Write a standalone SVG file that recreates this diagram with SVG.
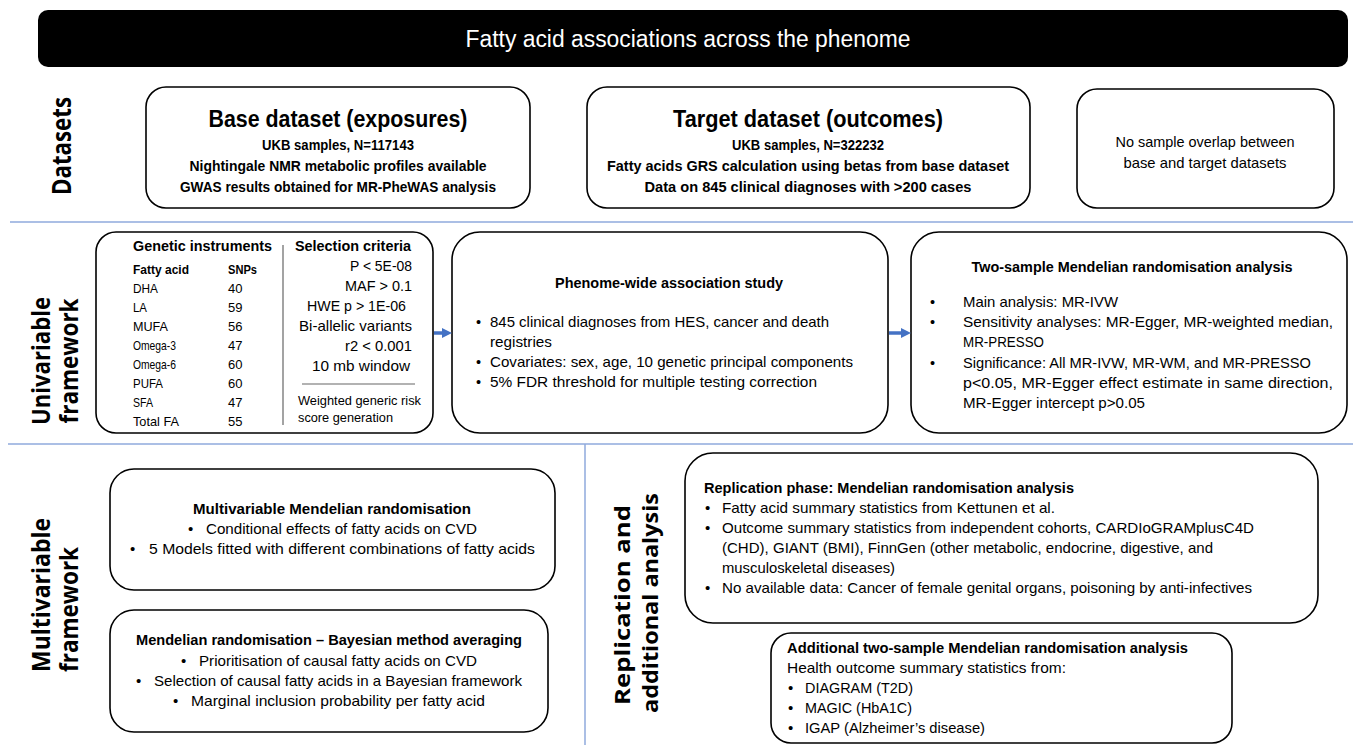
<svg xmlns="http://www.w3.org/2000/svg" width="1353" height="745" viewBox="0 0 1353 745">
<style>
.bg{fill:#fff}
.box{fill:#fff;stroke:#000;stroke-width:1.6}
.sep{stroke:#8FAADC;stroke-width:1.5;fill:none}
.lbl{font-family:"Open Sans","Liberation Sans",sans-serif;font-weight:bold;fill:#000}
.t{font-family:"Liberation Sans",Arial,sans-serif;fill:#000}
.b{font-weight:bold}
.m{text-anchor:middle}
.e{text-anchor:end}
.arrow{stroke:#4472C4;stroke-width:3.5;fill:none}
</style>
<defs>
<marker id="ah" viewBox="0 0 10 10" refX="2" refY="5" markerWidth="10" markerHeight="11" markerUnits="userSpaceOnUse" orient="auto">
<path d="M0,0 L10,5 L0,10 z" fill="#4472C4"/>
</marker>
</defs>
<rect class="bg" x="0" y="0" width="1353" height="745"/>

<g id="title">
<rect x="38" y="10" width="1310" height="57" rx="10" fill="#000"/>
<text class="t m" x="688" y="47" font-size="23" style="fill:#fff" textLength="445" lengthAdjust="spacingAndGlyphs">Fatty acid associations across the phenome</text>
</g>

<g id="separators">
<line class="sep" x1="10" y1="222" x2="1353" y2="222"/>
<line class="sep" x1="8" y1="444" x2="1353" y2="444"/>
<line class="sep" x1="585" y1="444" x2="585" y2="745"/>
</g>

<g id="section-labels">
<text class="lbl m" font-size="26" transform="translate(71,146) rotate(-90)" textLength="98" lengthAdjust="spacingAndGlyphs">Datasets</text>
<text class="lbl m" font-size="25" transform="translate(50,361) rotate(-90)" textLength="128" lengthAdjust="spacingAndGlyphs">Univariable</text>
<text class="lbl m" font-size="25" transform="translate(78,361) rotate(-90)" textLength="125" lengthAdjust="spacingAndGlyphs">framework</text>
<text class="lbl" font-size="25" transform="translate(50,672) rotate(-90)" textLength="154" lengthAdjust="spacingAndGlyphs">Multivariable</text>
<text class="lbl" font-size="25" transform="translate(78,672) rotate(-90)" textLength="125" lengthAdjust="spacingAndGlyphs">framework</text>
<text class="lbl m" font-size="22" transform="translate(630,605) rotate(-90)" textLength="200" lengthAdjust="spacingAndGlyphs">Replication and</text>
<text class="lbl m" font-size="22" transform="translate(658,603) rotate(-90)" textLength="220" lengthAdjust="spacingAndGlyphs">additional analysis</text>
</g>

<g id="base-dataset">
<rect class="box" x="146" y="87" width="384" height="121" rx="20"/>
<text class="t b m" x="338" y="127" font-size="23" textLength="259" lengthAdjust="spacingAndGlyphs">Base dataset (exposures)</text>
<text class="t b m" x="338" y="150" font-size="15" textLength="152" lengthAdjust="spacingAndGlyphs">UKB samples, N=117143</text>
<text class="t b m" x="338" y="171" font-size="15" textLength="297" lengthAdjust="spacingAndGlyphs">Nightingale NMR metabolic profiles available</text>
<text class="t b m" x="338" y="192" font-size="15" textLength="316" lengthAdjust="spacingAndGlyphs">GWAS results obtained for MR-PheWAS analysis</text>
</g>

<g id="target-dataset">
<rect class="box" x="587" y="87" width="443" height="121" rx="20"/>
<text class="t b m" x="808" y="127" font-size="23" textLength="270" lengthAdjust="spacingAndGlyphs">Target dataset (outcomes)</text>
<text class="t b m" x="808" y="150" font-size="15" textLength="152" lengthAdjust="spacingAndGlyphs">UKB samples, N=322232</text>
<text class="t b m" x="808" y="171" font-size="15" textLength="402" lengthAdjust="spacingAndGlyphs">Fatty acids GRS calculation using betas from base dataset</text>
<text class="t b m" x="808" y="192" font-size="15" textLength="327" lengthAdjust="spacingAndGlyphs">Data on 845 clinical diagnoses with &gt;200 cases</text>
</g>

<g id="no-overlap">
<rect class="box" x="1077" y="89" width="257" height="119" rx="20"/>
<text class="t m" x="1205" y="147" font-size="15" textLength="179" lengthAdjust="spacingAndGlyphs">No sample overlap between</text>
<text class="t m" x="1205" y="168" font-size="15" textLength="163" lengthAdjust="spacingAndGlyphs">base and target datasets</text>
</g>

<g id="genetic-instruments">
<rect class="box" x="96" y="232" width="337" height="201" rx="20"/>
<text class="t b" x="133" y="251" font-size="15" textLength="139" lengthAdjust="spacingAndGlyphs">Genetic instruments</text>
<text class="t b" x="295" y="251" font-size="15" textLength="116" lengthAdjust="spacingAndGlyphs">Selection criteria</text>
<line x1="283" y1="245" x2="283" y2="425" stroke="#666" stroke-width="1.2"/>
<text class="t b" x="133" y="274" font-size="13" textLength="56" lengthAdjust="spacingAndGlyphs">Fatty acid</text>
<text class="t b" x="228" y="274" font-size="13" textLength="29" lengthAdjust="spacingAndGlyphs">SNPs</text>
<g class="t" font-size="13">
<text x="133" y="293" textLength="25" lengthAdjust="spacingAndGlyphs">DHA</text><text x="228" y="293">40</text>
<text x="133" y="312" textLength="14" lengthAdjust="spacingAndGlyphs">LA</text><text x="228" y="312">59</text>
<text x="133" y="331" textLength="35" lengthAdjust="spacingAndGlyphs">MUFA</text><text x="228" y="331">56</text>
<text x="133" y="350" textLength="43" lengthAdjust="spacingAndGlyphs">Omega-3</text><text x="228" y="350">47</text>
<text x="133" y="369" textLength="43" lengthAdjust="spacingAndGlyphs">Omega-6</text><text x="228" y="369">60</text>
<text x="133" y="388" textLength="30" lengthAdjust="spacingAndGlyphs">PUFA</text><text x="228" y="388">60</text>
<text x="133" y="407" textLength="20" lengthAdjust="spacingAndGlyphs">SFA</text><text x="228" y="407">47</text>
<text x="133" y="426" textLength="46" lengthAdjust="spacingAndGlyphs">Total FA</text><text x="228" y="426">55</text>
</g>
<g class="t e" font-size="14.5">
<text x="412" y="271" textLength="62" lengthAdjust="spacingAndGlyphs">P &lt; 5E-08</text>
<text x="412" y="291" textLength="67" lengthAdjust="spacingAndGlyphs">MAF &gt; 0.1</text>
<text x="406" y="311" textLength="99" lengthAdjust="spacingAndGlyphs">HWE p &gt; 1E-06</text>
<text x="412" y="331" textLength="113" lengthAdjust="spacingAndGlyphs">Bi-allelic variants</text>
<text x="412" y="351" textLength="67" lengthAdjust="spacingAndGlyphs">r2 &lt; 0.001</text>
<text x="410" y="371" textLength="98" lengthAdjust="spacingAndGlyphs">10 mb window</text>
</g>
<line x1="302" y1="384" x2="415" y2="384" stroke="#666" stroke-width="1.2"/>
<text class="t" x="298" y="405" font-size="13" textLength="123" lengthAdjust="spacingAndGlyphs">Weighted generic risk</text>
<text class="t" x="298" y="422" font-size="13" textLength="95" lengthAdjust="spacingAndGlyphs">score generation</text>
</g>

<g id="phewas">
<rect class="box" x="452" y="232" width="436" height="201" rx="28"/>
<text class="t b m" x="669" y="288" font-size="14.5" textLength="228" lengthAdjust="spacingAndGlyphs">Phenome-wide association study</text>
<g class="t" font-size="14.5">
<text x="476" y="327">•</text>
<text x="490" y="327" textLength="339" lengthAdjust="spacingAndGlyphs">845 clinical diagnoses from HES, cancer and death</text>
<text x="490" y="347" textLength="62" lengthAdjust="spacingAndGlyphs">registries</text>
<text x="476" y="367">•</text>
<text x="490" y="367" textLength="363" lengthAdjust="spacingAndGlyphs">Covariates: sex, age, 10 genetic principal components</text>
<text x="476" y="387">•</text>
<text x="490" y="387" textLength="327" lengthAdjust="spacingAndGlyphs">5% FDR threshold for multiple testing correction</text>
</g>
</g>

<g id="two-sample-mr">
<rect class="box" x="911" y="232" width="436" height="201" rx="28"/>
<text class="t b m" x="1132" y="272" font-size="14.5" textLength="321" lengthAdjust="spacingAndGlyphs">Two-sample Mendelian randomisation analysis</text>
<g class="t" font-size="14.5">
<text x="930" y="307">•</text>
<text x="963" y="307" textLength="155" lengthAdjust="spacingAndGlyphs">Main analysis: MR-IVW</text>
<text x="930" y="327">•</text>
<text x="963" y="327" textLength="370" lengthAdjust="spacingAndGlyphs">Sensitivity analyses: MR-Egger, MR-weighted median,</text>
<text x="963" y="347" textLength="81" lengthAdjust="spacingAndGlyphs">MR-PRESSO</text>
<text x="930" y="368">•</text>
<text x="963" y="368" textLength="348" lengthAdjust="spacingAndGlyphs">Significance: All MR-IVW, MR-WM, and MR-PRESSO</text>
<text x="963" y="388" textLength="370" lengthAdjust="spacingAndGlyphs">p&lt;0.05, MR-Egger effect estimate in same direction,</text>
<text x="963" y="408" textLength="182" lengthAdjust="spacingAndGlyphs">MR-Egger intercept p&gt;0.05</text>
</g>
</g>

<g id="mvmr">
<rect class="box" x="110" y="469" width="445" height="121" rx="24"/>
<text class="t b m" x="332" y="514" font-size="15" textLength="278" lengthAdjust="spacingAndGlyphs">Multivariable Mendelian randomisation</text>
<g class="t" font-size="15">
<text x="188" y="534">•</text>
<text x="206" y="534" textLength="271" lengthAdjust="spacingAndGlyphs">Conditional effects of fatty acids on CVD</text>
<text x="130" y="554">•</text>
<text x="149" y="554" textLength="386" lengthAdjust="spacingAndGlyphs">5 Models fitted with different combinations of fatty acids</text>
</g>
</g>

<g id="mr-bma">
<rect class="box" x="110" y="610" width="438" height="122" rx="24"/>
<text class="t b m" x="329" y="645" font-size="15" textLength="386" lengthAdjust="spacingAndGlyphs">Mendelian randomisation – Bayesian method averaging</text>
<g class="t" font-size="15">
<text x="181" y="666">•</text>
<text x="199" y="666" textLength="278" lengthAdjust="spacingAndGlyphs">Prioritisation of causal fatty acids on CVD</text>
<text x="136" y="686">•</text>
<text x="154" y="686" textLength="368" lengthAdjust="spacingAndGlyphs">Selection of causal fatty acids in a Bayesian framework</text>
<text x="173" y="706">•</text>
<text x="191" y="706" textLength="294" lengthAdjust="spacingAndGlyphs">Marginal inclusion probability per fatty acid</text>
</g>
</g>

<g id="replication">
<rect class="box" x="685" y="453" width="633" height="170" rx="28"/>
<text class="t b" x="704" y="493" font-size="15" textLength="370" lengthAdjust="spacingAndGlyphs">Replication phase: Mendelian randomisation analysis</text>
<g class="t" font-size="15">
<text x="705" y="513">•</text>
<text x="722" y="513" textLength="333" lengthAdjust="spacingAndGlyphs">Fatty acid summary statistics from Kettunen et al.</text>
<text x="705" y="533">•</text>
<text x="722" y="533" textLength="532" lengthAdjust="spacingAndGlyphs">Outcome summary statistics from independent cohorts, CARDIoGRAMplusC4D</text>
<text x="722" y="553" textLength="491" lengthAdjust="spacingAndGlyphs">(CHD), GIANT (BMI), FinnGen (other metabolic, endocrine, digestive, and</text>
<text x="722" y="573" textLength="173" lengthAdjust="spacingAndGlyphs">musculoskeletal diseases)</text>
<text x="705" y="593">•</text>
<text x="722" y="593" textLength="530" lengthAdjust="spacingAndGlyphs">No available data: Cancer of female genital organs, poisoning by anti-infectives</text>
</g>
</g>

<g id="additional-mr">
<rect class="box" x="771" y="633" width="461" height="110" rx="20"/>
<text class="t b" x="787" y="653" font-size="15" textLength="401" lengthAdjust="spacingAndGlyphs">Additional two-sample Mendelian randomisation analysis</text>
<g class="t" font-size="15">
<text x="787" y="673" textLength="279" lengthAdjust="spacingAndGlyphs">Health outcome summary statistics from:</text>
<text x="788" y="693">•</text>
<text x="805" y="693" textLength="108" lengthAdjust="spacingAndGlyphs">DIAGRAM (T2D)</text>
<text x="788" y="713">•</text>
<text x="805" y="713" textLength="107" lengthAdjust="spacingAndGlyphs">MAGIC (HbA1C)</text>
<text x="788" y="733">•</text>
<text x="805" y="733" textLength="180" lengthAdjust="spacingAndGlyphs">IGAP (Alzheimer’s disease)</text>
</g>
</g>

<g id="connectors">
<line class="arrow" x1="434" y1="333" x2="444" y2="333" marker-end="url(#ah)"/>
<line class="arrow" x1="889" y1="333" x2="903" y2="333" marker-end="url(#ah)"/>
</g>
</svg>
